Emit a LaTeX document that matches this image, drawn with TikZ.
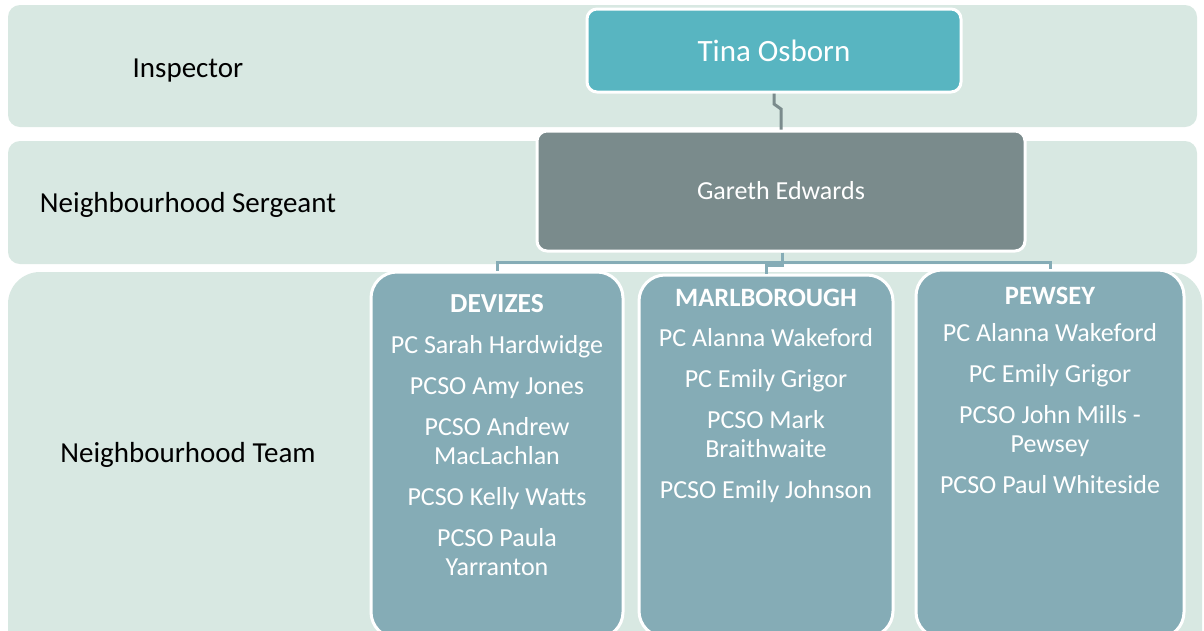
\documentclass[tikz,border=0pt]{standalone}
\usepackage{fontspec}
\setmainfont{Carlito}
\definecolor{bandc}{HTML}{D8E8E2}
\definecolor{tinac}{HTML}{58B5C1}
\definecolor{garc}{HTML}{7A8B8C}
\definecolor{colc}{HTML}{85ACB6}
\begin{document}
\begin{tikzpicture}[x=1pt,y=-1pt,
  band/.style={fill=bandc},
  boxnode/.style={rectangle,draw=white,line width=3pt,inner sep=0pt,rounded corners=10pt},
  colbox/.style={rectangle,draw=white,line width=3pt,inner sep=0pt,rounded corners=26pt,fill=colc},
  lbl/.style={font=\fontsize{29}{34}\selectfont,text=black,inner sep=0pt},
  coltext/.style={font=\fontsize{26}{29.5}\selectfont,text=white,align=center,inner sep=0pt,anchor=north},
  conntop/.style={draw=garc,line width=3pt},
  connbot/.style={draw=colc,line width=3pt}
]
\useasboundingbox (0,0) rectangle (1204,630);
\clip (0,0) rectangle (1204,630);
\fill[white] (0,0) rectangle (1204,630);
% bands
\fill[band,rounded corners=12pt] (8,5) rectangle (1197,127);
\fill[band,rounded corners=12pt] (8,141) rectangle (1197,264);
\fill[band,rounded corners=32pt] (8,272) rectangle (1202,670);
% labels
\node[lbl] (linsp) at (188,71) {Inspector};
\node[lbl] (lserg) at (188,205) {Neighbourhood Sergeant};
\node[lbl] (lteam) at (188,455) {Neighbourhood Team};
% connector joints
\coordinate (tj1) at (774,104);
\coordinate (tj2) at (781,109);
\coordinate (bj) at (782,262);
\coordinate (bjm) at (782,265);
% boxes
\node[boxnode,fill=tinac,minimum width=374pt,minimum height=83pt,text=white,font=\fontsize{31}{36}\selectfont] (tina) at (774,50.5) {Tina Osborn};
\node[boxnode,fill=garc,minimum width=488pt,minimum height=120pt,text=white,font=\fontsize{26}{30}\selectfont] (gareth) at (781,191) {Gareth Edwards};
\node[colbox,minimum width=252pt,minimum height=366pt] (dev) at (497,455) {};
\node[colbox,minimum width=254pt,minimum height=362pt] (marl) at (766,456) {};
\node[colbox,minimum width=268pt,minimum height=368pt] (pew) at (1050,454) {};
% connectors
\draw[conntop] (tina.south -| tj1) -- (tj1) -- (tj2) -- (tj2 |- gareth.north);
\draw[connbot] (gareth.south -| bj) -- (bj) -- (bj -| dev.north) -- (dev.north);
\draw[connbot] (bj) -- (bj -| pew.north) -- (pew.north);
\draw[connbot] (gareth.south -| bjm) -- (bjm) -- (bjm -| marl.north) -- (marl.north);
% column texts
\node[coltext] (devt) at (497,294.5) {{\fontsize{27.5}{29.5}\selectfont\bfseries DEVIZES}\\[11.3pt]
PC Sarah Hardwidge\\[11.3pt]
PCSO Amy Jones\\[11.3pt]
PCSO Andrew\\MacLachlan\\[11.3pt]
PCSO Kelly Watts\\[11.3pt]
PCSO Paula\\Yarranton};
\node[coltext] (marlt) at (766,288.5) {{\fontsize{26.5}{29.5}\selectfont\bfseries MARLBOROUGH}\\[11.3pt]
PC Alanna Wakeford\\[11.3pt]
PC Emily Grigor\\[11.3pt]
PCSO Mark\\Braithwaite\\[11.3pt]
PCSO Emily Johnson};
\node[coltext] (pewt) at (1050,286.5) {{\fontsize{26.5}{29.5}\selectfont\bfseries PEWSEY}\\[8pt]
PC Alanna Wakeford\\[11.3pt]
PC Emily Grigor\\[11.3pt]
PCSO John Mills -\\Pewsey\\[11.3pt]
PCSO Paul Whiteside};
\end{tikzpicture}
\end{document}
